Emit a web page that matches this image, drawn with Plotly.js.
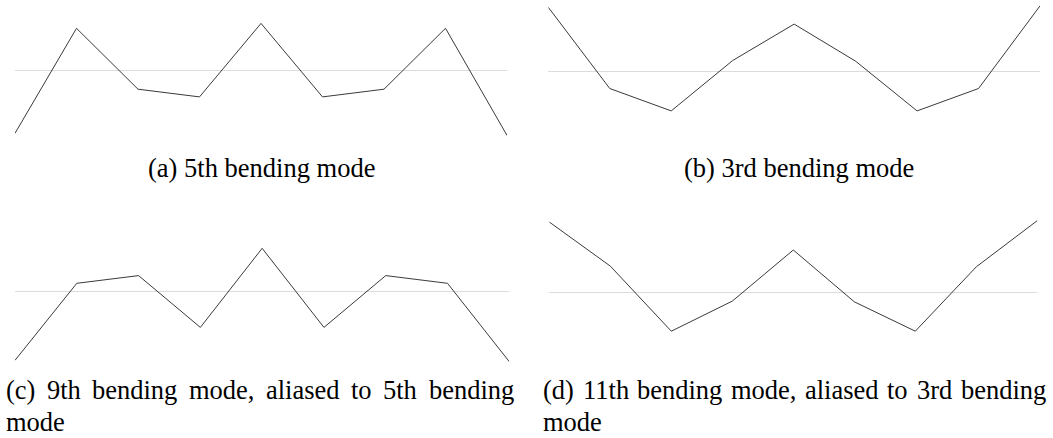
<!DOCTYPE html>
<html>
<head>
<meta charset="utf-8">
<script src="https://cdn.plot.ly/plotly-3.0.1.min.js"></script>
<style>
  html, body { margin: 0; padding: 0; background: #fff; }
  #fig { width: 1053px; height: 438px; }
</style>
</head>
<body>
<div id="fig"></div>
<script>
// Sample positions along the beam (9 stations)
const stations = [0, 1, 2, 3, 4, 5, 6, 7, 8];

// Sampled mode-shape amplitudes at each station
const mode5 = [-0.90, 0.60, -0.27, -0.38, 0.67, -0.38, -0.27, 0.60, -0.93];
const mode3 = [0.91, -0.25, -0.57, 0.15, 0.67, 0.14, -0.57, -0.25, 0.93];
const mode9 = [-0.98, 0.12, 0.23, -0.51, 0.62, -0.51, 0.23, 0.12, -1.00];
const mode11 = [1.00, 0.37, -0.56, -0.13, 0.60, -0.14, -0.56, 0.36, 1.02];

// Sub-figure captions
const captionA = "(a) 5th bending mode";
const captionB = "(b) 3rd bending mode";
const captionC = ["(c) 9th bending mode, aliased to 5th bending", "mode"];
const captionD = ["(d) 11th bending mode, aliased to 3rd bending", "mode"];

const W = 1053, H = 438;
const PX_PER_UNIT = 70;
const FONT = "Liberation Serif";
const FS = 26.5;

// Panel geometry in pixels: left/right, top/bottom, and the pixel row of zero
const panels = [
  { y: mode5,  x0: 15,    x1: 507,    top: 0,   bot: 145, zero: 70.3 },
  { y: mode3,  x0: 548.3, x1: 1040,   top: 0,   bot: 145, zero: 71.0 },
  { y: mode9,  x0: 15,    x1: 509.3,  top: 215, bot: 368, zero: 291.7 },
  { y: mode11, x0: 549.3, x1: 1037.3, top: 215, bot: 368, zero: 292.0 }
];

const data = [];
const layout = {
  width: W, height: H,
  margin: { l: 0, r: 0, t: 0, b: 0 },
  paper_bgcolor: "#fff", plot_bgcolor: "rgba(0,0,0,0)",
  showlegend: false,
  annotations: []
};

panels.forEach((p, i) => {
  const n = i + 1;
  const xa = n === 1 ? "x" : "x" + n;
  const ya = n === 1 ? "y" : "y" + n;
  data.push({
    x: stations, y: p.y, xaxis: xa, yaxis: ya,
    type: "scatter", mode: "lines",
    line: { color: "#3a3a3a", width: 1 },
    hoverinfo: "skip"
  });
  const xKey = n === 1 ? "xaxis" : "xaxis" + n;
  const yKey = n === 1 ? "yaxis" : "yaxis" + n;
  layout[xKey] = {
    domain: [p.x0 / W, p.x1 / W], range: [0, 8], anchor: ya,
    showgrid: false, zeroline: false, showticklabels: false, ticks: "", showline: false
  };
  layout[yKey] = {
    domain: [1 - p.bot / H, 1 - p.top / H],
    range: [-(p.bot - p.zero) / PX_PER_UNIT, (p.zero - p.top) / PX_PER_UNIT],
    anchor: xa,
    showgrid: false, zeroline: true, zerolinecolor: "#dcdcdc", zerolinewidth: 1,
    showticklabels: false, ticks: "", showline: false
  };
});

// Text helpers
const ctx = document.createElement("canvas").getContext("2d");
ctx.font = FS + "px '" + FONT + "'";
function textWidth(s) { return ctx.measureText(s).width; }

// middle of text box sits roughly 0.34em above the baseline
function midFromBaseline(b) { return b - 0.3375 * FS; }

function addText(str, xpx, baseline, anchor) {
  layout.annotations.push({
    text: str, xref: "paper", yref: "paper",
    x: xpx / W, y: 1 - midFromBaseline(baseline) / H,
    xanchor: anchor, yanchor: "middle", showarrow: false,
    borderpad: 0,
    font: { family: FONT, size: FS, color: "#000" }
  });
}

// Spread the words of a line evenly between two x positions
function addJustified(str, xLeft, xRight, baseline) {
  const words = str.split(" ");
  const widths = words.map(textWidth);
  const total = widths.reduce((a, b) => a + b, 0);
  const gap = (xRight - xLeft - total) / (words.length - 1);
  let x = xLeft;
  words.forEach((w, k) => {
    addText(w, x, baseline, "left");
    x += widths[k] + gap;
  });
}

addText(captionA, 261.3, 177.3, "center");
addText(captionB, 799, 177.3, "center");
addJustified(captionC[0], 5, 513, 399);
addText(captionC[1], 5, 431, "left");
addJustified(captionD[0], 542, 1045, 399);
addText(captionD[1], 542, 431, "left");

Plotly.newPlot("fig", data, layout, { staticPlot: true, displayModeBar: false });
</script>
</body>
</html>
